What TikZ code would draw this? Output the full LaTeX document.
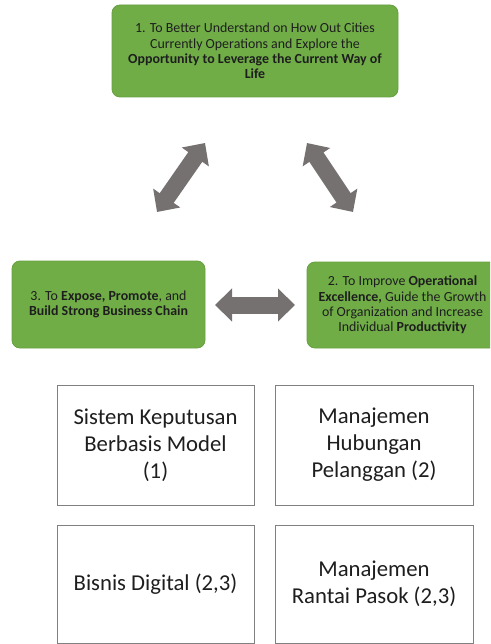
\documentclass[tikz,border=0pt]{standalone}
\usepackage{fontspec}
\setmainfont{Carlito}
\usetikzlibrary{arrows.meta}
\definecolor{goalgreen}{HTML}{70AD47}
\definecolor{goaledge}{HTML}{67A040}
\definecolor{linkgray}{HTML}{767171}
\definecolor{boxedge}{HTML}{808080}
\definecolor{txt}{HTML}{1E1E1E}
\begin{document}
\begin{tikzpicture}[x=1pt,y=-1pt,
  goal/.style={draw=goaledge, fill=goalgreen, rounded corners=8pt, line width=0.8pt,
    text=txt, align=center, font=\fontsize{13.9}{15.4}\selectfont, inner sep=0pt},
  area/.style={draw=boxedge, line width=0.9pt, fill=white, text=txt, align=center,
    font=\fontsize{22.7}{27}\selectfont, inner sep=0pt},
  biarrow/.style={draw=linkgray, line width=17pt,
    {Triangle[length=17pt,width=32pt]}-{Triangle[length=17pt,width=32pt]}}]
  \clip (0,0) rectangle (490,644);
  \fill[white] (0,0) rectangle (490,644);

  % three goals
  \node[goal, minimum width=286pt, minimum height=92pt] (g1) at (255,51)
    {1. To Better Understand on How Out Cities\\
     Currently Operations and Explore the\\
     \textbf{Opportunity to Leverage the Current Way of}\\
     \textbf{Life}};
  \node[goal, minimum width=193pt, minimum height=87pt] (g3) at (108.5,304.5)
    {3. To \textbf{Expose, Promote}, and\\
     \textbf{Build Strong Business Chain}};
  \node[goal, minimum width=191pt, minimum height=86pt] (g2) at (402.5,305)
    {2. To Improve \textbf{Operational}\\
     \textbf{Excellence,} Guide the Growth\\
     of Organization and Increase\\
     Individual \textbf{Productivity}};

  % links between the goals
  \coordinate (a1) at (157,212);
  \coordinate (a2) at (205,143);
  \coordinate (b1) at (307,143);
  \coordinate (b2) at (353,212);
  \coordinate (c1) at (215,305);
  \coordinate (c2) at (295,305);
  \draw[biarrow] (a1) -- (a2);
  \draw[biarrow] (b1) -- (b2);
  \draw[biarrow] (c1) -- (c2);

  % application areas
  \node[area, minimum width=197pt, minimum height=120pt] (s1) at (155.5,445)
    {Sistem Keputusan\\Berbasis Model\\(1)};
  \node[area, minimum width=198pt, minimum height=120pt] (s2) at (374,445)
    {Manajemen\\Hubungan\\Pelanggan (2)};
  \node[area, minimum width=197pt, minimum height=118pt] (s3) at (155.5,584)
    {Bisnis Digital (2,3)};
  \node[area, minimum width=198pt, minimum height=118pt] (s4) at (374,584)
    {Manajemen\\Rantai Pasok (2,3)};
\end{tikzpicture}
\end{document}
